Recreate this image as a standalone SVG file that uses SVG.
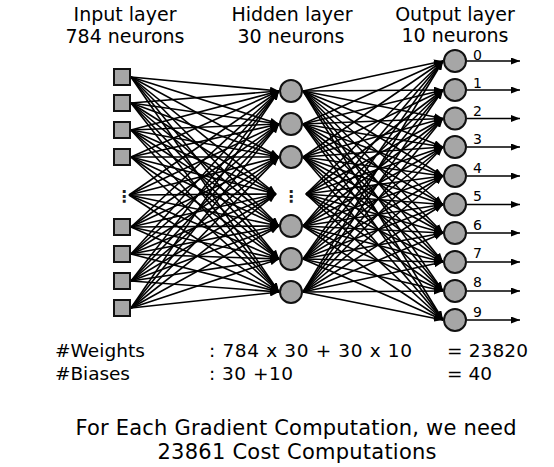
<svg xmlns="http://www.w3.org/2000/svg" width="554" height="467" viewBox="0 0 554 467">
<style>
text{font-family:"DejaVu Sans","Liberation Sans",sans-serif;fill:#000}
.hd{font-size:19px;text-anchor:middle}
.st{font-size:18.5px}
.bt{font-size:21px;text-anchor:middle}
.lb{font-size:14px}
.dt{font-size:16px;text-anchor:middle;fill:#222;font-weight:bold}
.n{fill:#a6a6a6;stroke:#111;stroke-width:2}
.c line{stroke:#000;stroke-width:1.6;marker-end:url(#ah)}
</style>
<defs>
<marker id="ah" markerUnits="userSpaceOnUse" markerWidth="9" markerHeight="7" refX="9" refY="3.5" orient="auto">
<path d="M0,0 L9,3.5 L0,7 z" fill="#000"/>
</marker>
</defs>
<g id="labels">
<text class="hd" x="125" y="21">Input layer</text>
<text class="hd" x="125" y="43">784 neurons</text>
<text class="hd" x="292" y="21">Hidden layer</text>
<text class="hd" x="291" y="43">30 neurons</text>
<text class="hd" x="455" y="21">Output layer</text>
<text class="hd" x="455" y="42">10 neurons</text>
</g>
<g id="connectors" class="c">
<line x1="131" y1="77" x2="279" y2="91"/><line x1="131" y1="77" x2="279" y2="124"/><line x1="131" y1="77" x2="279" y2="157"/><line x1="131" y1="77" x2="276" y2="194"/><line x1="131" y1="77" x2="279" y2="226"/><line x1="131" y1="77" x2="279" y2="259"/><line x1="131" y1="77" x2="279" y2="292"/>
<line x1="131" y1="103" x2="279" y2="91"/><line x1="131" y1="103" x2="279" y2="124"/><line x1="131" y1="103" x2="279" y2="157"/><line x1="131" y1="103" x2="276" y2="194"/><line x1="131" y1="103" x2="279" y2="226"/><line x1="131" y1="103" x2="279" y2="259"/><line x1="131" y1="103" x2="279" y2="292"/>
<line x1="131" y1="130" x2="279" y2="91"/><line x1="131" y1="130" x2="279" y2="124"/><line x1="131" y1="130" x2="279" y2="157"/><line x1="131" y1="130" x2="276" y2="194"/><line x1="131" y1="130" x2="279" y2="226"/><line x1="131" y1="130" x2="279" y2="259"/><line x1="131" y1="130" x2="279" y2="292"/>
<line x1="131" y1="157" x2="279" y2="91"/><line x1="131" y1="157" x2="279" y2="124"/><line x1="131" y1="157" x2="279" y2="157"/><line x1="131" y1="157" x2="276" y2="194"/><line x1="131" y1="157" x2="279" y2="226"/><line x1="131" y1="157" x2="279" y2="259"/><line x1="131" y1="157" x2="279" y2="292"/>
<line x1="129" y1="195" x2="279" y2="91"/><line x1="129" y1="195" x2="279" y2="124"/><line x1="129" y1="195" x2="279" y2="157"/><line x1="129" y1="195" x2="276" y2="194"/><line x1="129" y1="195" x2="279" y2="226"/><line x1="129" y1="195" x2="279" y2="259"/><line x1="129" y1="195" x2="279" y2="292"/>
<line x1="131" y1="227" x2="279" y2="91"/><line x1="131" y1="227" x2="279" y2="124"/><line x1="131" y1="227" x2="279" y2="157"/><line x1="131" y1="227" x2="276" y2="194"/><line x1="131" y1="227" x2="279" y2="226"/><line x1="131" y1="227" x2="279" y2="259"/><line x1="131" y1="227" x2="279" y2="292"/>
<line x1="131" y1="254" x2="279" y2="91"/><line x1="131" y1="254" x2="279" y2="124"/><line x1="131" y1="254" x2="279" y2="157"/><line x1="131" y1="254" x2="276" y2="194"/><line x1="131" y1="254" x2="279" y2="226"/><line x1="131" y1="254" x2="279" y2="259"/><line x1="131" y1="254" x2="279" y2="292"/>
<line x1="131" y1="281" x2="279" y2="91"/><line x1="131" y1="281" x2="279" y2="124"/><line x1="131" y1="281" x2="279" y2="157"/><line x1="131" y1="281" x2="276" y2="194"/><line x1="131" y1="281" x2="279" y2="226"/><line x1="131" y1="281" x2="279" y2="259"/><line x1="131" y1="281" x2="279" y2="292"/>
<line x1="131" y1="308" x2="279" y2="91"/><line x1="131" y1="308" x2="279" y2="124"/><line x1="131" y1="308" x2="279" y2="157"/><line x1="131" y1="308" x2="276" y2="194"/><line x1="131" y1="308" x2="279" y2="226"/><line x1="131" y1="308" x2="279" y2="259"/><line x1="131" y1="308" x2="279" y2="292"/>
<line x1="303" y1="91" x2="443" y2="61"/><line x1="303" y1="91" x2="443" y2="90"/><line x1="303" y1="91" x2="443" y2="118.5"/><line x1="303" y1="91" x2="443" y2="147"/><line x1="303" y1="91" x2="443" y2="176"/><line x1="303" y1="91" x2="443" y2="204.5"/><line x1="303" y1="91" x2="443" y2="233"/><line x1="303" y1="91" x2="443" y2="262"/><line x1="303" y1="91" x2="443" y2="291"/><line x1="303" y1="91" x2="443" y2="320"/>
<line x1="303" y1="124" x2="443" y2="61"/><line x1="303" y1="124" x2="443" y2="90"/><line x1="303" y1="124" x2="443" y2="118.5"/><line x1="303" y1="124" x2="443" y2="147"/><line x1="303" y1="124" x2="443" y2="176"/><line x1="303" y1="124" x2="443" y2="204.5"/><line x1="303" y1="124" x2="443" y2="233"/><line x1="303" y1="124" x2="443" y2="262"/><line x1="303" y1="124" x2="443" y2="291"/><line x1="303" y1="124" x2="443" y2="320"/>
<line x1="303" y1="157" x2="443" y2="61"/><line x1="303" y1="157" x2="443" y2="90"/><line x1="303" y1="157" x2="443" y2="118.5"/><line x1="303" y1="157" x2="443" y2="147"/><line x1="303" y1="157" x2="443" y2="176"/><line x1="303" y1="157" x2="443" y2="204.5"/><line x1="303" y1="157" x2="443" y2="233"/><line x1="303" y1="157" x2="443" y2="262"/><line x1="303" y1="157" x2="443" y2="291"/><line x1="303" y1="157" x2="443" y2="320"/>
<line x1="306" y1="194" x2="443" y2="61"/><line x1="306" y1="194" x2="443" y2="90"/><line x1="306" y1="194" x2="443" y2="118.5"/><line x1="306" y1="194" x2="443" y2="147"/><line x1="306" y1="194" x2="443" y2="176"/><line x1="306" y1="194" x2="443" y2="204.5"/><line x1="306" y1="194" x2="443" y2="233"/><line x1="306" y1="194" x2="443" y2="262"/><line x1="306" y1="194" x2="443" y2="291"/><line x1="306" y1="194" x2="443" y2="320"/>
<line x1="303" y1="226" x2="443" y2="61"/><line x1="303" y1="226" x2="443" y2="90"/><line x1="303" y1="226" x2="443" y2="118.5"/><line x1="303" y1="226" x2="443" y2="147"/><line x1="303" y1="226" x2="443" y2="176"/><line x1="303" y1="226" x2="443" y2="204.5"/><line x1="303" y1="226" x2="443" y2="233"/><line x1="303" y1="226" x2="443" y2="262"/><line x1="303" y1="226" x2="443" y2="291"/><line x1="303" y1="226" x2="443" y2="320"/>
<line x1="303" y1="259" x2="443" y2="61"/><line x1="303" y1="259" x2="443" y2="90"/><line x1="303" y1="259" x2="443" y2="118.5"/><line x1="303" y1="259" x2="443" y2="147"/><line x1="303" y1="259" x2="443" y2="176"/><line x1="303" y1="259" x2="443" y2="204.5"/><line x1="303" y1="259" x2="443" y2="233"/><line x1="303" y1="259" x2="443" y2="262"/><line x1="303" y1="259" x2="443" y2="291"/><line x1="303" y1="259" x2="443" y2="320"/>
<line x1="303" y1="292" x2="443" y2="61"/><line x1="303" y1="292" x2="443" y2="90"/><line x1="303" y1="292" x2="443" y2="118.5"/><line x1="303" y1="292" x2="443" y2="147"/><line x1="303" y1="292" x2="443" y2="176"/><line x1="303" y1="292" x2="443" y2="204.5"/><line x1="303" y1="292" x2="443" y2="233"/><line x1="303" y1="292" x2="443" y2="262"/><line x1="303" y1="292" x2="443" y2="291"/><line x1="303" y1="292" x2="443" y2="320"/>
<line x1="467" y1="61" x2="520" y2="61"/><line x1="467" y1="90" x2="520" y2="90"/><line x1="467" y1="118.5" x2="520" y2="118.5"/><line x1="467" y1="147" x2="520" y2="147"/><line x1="467" y1="176" x2="520" y2="176"/><line x1="467" y1="204.5" x2="520" y2="204.5"/><line x1="467" y1="233" x2="520" y2="233"/><line x1="467" y1="262" x2="520" y2="262"/><line x1="467" y1="291" x2="520" y2="291"/><line x1="467" y1="320" x2="520" y2="320"/>
</g>
<g id="input-layer">
<g id="in1"><rect class="n" x="114" y="69" width="16" height="16"/></g>
<g id="in2"><rect class="n" x="114" y="95" width="16" height="16"/></g>
<g id="in3"><rect class="n" x="114" y="122" width="16" height="16"/></g>
<g id="in4"><rect class="n" x="114" y="149" width="16" height="16"/></g>
<g id="in-dots"><text class="dt" x="124" y="202">⋮</text></g>
<g id="in5"><rect class="n" x="114" y="219" width="16" height="16"/></g>
<g id="in6"><rect class="n" x="114" y="246" width="16" height="16"/></g>
<g id="in7"><rect class="n" x="114" y="273" width="16" height="16"/></g>
<g id="in8"><rect class="n" x="114" y="300" width="16" height="16"/></g>
</g>
<g id="hidden-layer">
<g id="h1"><circle class="n" cx="291" cy="91" r="11"/></g>
<g id="h2"><circle class="n" cx="291" cy="124" r="11"/></g>
<g id="h3"><circle class="n" cx="291" cy="157" r="11"/></g>
<g id="h-dots"><text class="dt" x="291" y="202">⋮</text></g>
<g id="h4"><circle class="n" cx="291" cy="226" r="11"/></g>
<g id="h5"><circle class="n" cx="291" cy="259" r="11"/></g>
<g id="h6"><circle class="n" cx="291" cy="292" r="11"/></g>
</g>
<g id="output-layer">
<g id="o0"><circle class="n" cx="455" cy="61" r="11"/><text class="lb" x="473" y="60">0</text></g>
<g id="o1"><circle class="n" cx="455" cy="90" r="11"/><text class="lb" x="473" y="87.5">1</text></g>
<g id="o2"><circle class="n" cx="455" cy="118.5" r="11"/><text class="lb" x="473" y="116">2</text></g>
<g id="o3"><circle class="n" cx="455" cy="147" r="11"/><text class="lb" x="473" y="144">3</text></g>
<g id="o4"><circle class="n" cx="455" cy="176" r="11"/><text class="lb" x="473" y="172.5">4</text></g>
<g id="o5"><circle class="n" cx="455" cy="204.5" r="11"/><text class="lb" x="473" y="201">5</text></g>
<g id="o6"><circle class="n" cx="455" cy="233" r="11"/><text class="lb" x="473" y="229.5">6</text></g>
<g id="o7"><circle class="n" cx="455" cy="262" r="11"/><text class="lb" x="473" y="258">7</text></g>
<g id="o8"><circle class="n" cx="455" cy="291" r="11"/><text class="lb" x="473" y="287">8</text></g>
<g id="o9"><circle class="n" cx="455" cy="320" r="11"/><text class="lb" x="473" y="316.5">9</text></g>
</g>
<g id="stats">
<text class="st" x="55" y="357" textLength="90" lengthAdjust="spacing">#Weights</text>
<text class="st" x="209" y="357" textLength="203" lengthAdjust="spacing">: 784 x 30 + 30 x 10</text>
<text class="st" x="447" y="357" textLength="81" lengthAdjust="spacing">= 23820</text>
<text class="st" x="55" y="380" textLength="75" lengthAdjust="spacing">#Biases</text>
<text class="st" x="209" y="380" textLength="84" lengthAdjust="spacing">: 30 +10</text>
<text class="st" x="447" y="380" textLength="45" lengthAdjust="spacing">= 40</text>
<text class="bt" x="296" y="435" textLength="441" lengthAdjust="spacing">For Each Gradient Computation, we need</text>
<text class="bt" x="297" y="459" textLength="279" lengthAdjust="spacing">23861 Cost Computations</text>
</g>
</svg>
